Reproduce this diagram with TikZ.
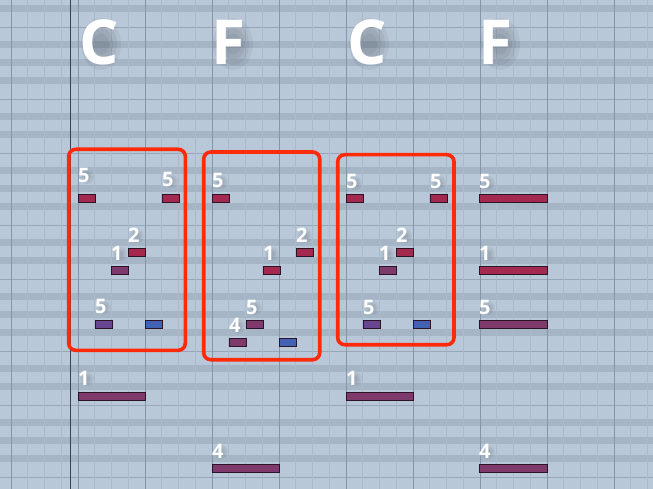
\documentclass[tikz,border=0pt]{standalone}
\usepackage{fontspec}
\setmainfont{Open Sans}
\usetikzlibrary{positioning}

\definecolor{rollbg}{HTML}{B9C8D8}
\definecolor{rollband}{HTML}{A5B5C6}
\definecolor{rollline}{HTML}{A9BACC}
\definecolor{rollbar}{HTML}{8396AB}
\definecolor{playline}{HTML}{3A4149}
\definecolor{noteRed}{HTML}{A3294E}
\definecolor{noteMag}{HTML}{7E3A6C}
\definecolor{notePurp}{HTML}{66468F}
\definecolor{noteBlue}{HTML}{4462B4}
\definecolor{boxRed}{HTML}{FF2A0A}

\tikzset{
  note/.style={draw=black!65!noteMag, line width=0.6pt, fill=#1, anchor=north west,
    inner sep=0pt, minimum height=7.6pt},
  finger/.style={text=white, font=\fontsize{20}{20}\selectfont\bfseries, anchor=base west, inner sep=0pt},
  chord/.style={text=white, font=\fontsize{62}{62}\selectfont\bfseries, anchor=base west, inner sep=0pt},
  haze/.style={fill=black, opacity=0.05},
  chordbox/.style={draw=boxRed, line width=3.6pt, rounded corners=7pt},
}

\begin{document}
\begin{tikzpicture}[x=1pt,y=-1pt]
  \useasboundingbox (0,0) rectangle (653,489);
  \clip (0,0) rectangle (653,489);

  %% Fond de la grille
  \fill [rollbg] (0,0) rectangle (653,489);
  \foreach \o in {0,126,252,378}
    \foreach \d in {0,36,54,72,108}
      \fill [rollband] (0,{5+\o+\d}) rectangle (653,{12+\o+\d});
  \foreach \o in {0,126,252,378} {
    \draw [rollline!90!black, line width=0.5pt] (0,27+\o) -- (653,27+\o);
    \draw [rollline!90!black, line width=0.5pt] (0,99+\o) -- (653,99+\o);
  }

  %% Lignes verticales
  \foreach \k in {0,...,38}
    \draw [rollline, line width=0.7pt] ({11+16.75*\k},0) -- ({11+16.75*\k},489);
  \foreach \k in {0,...,9}
    \draw [rollbar, line width=0.8pt] ({11+67*\k},0) -- ({11+67*\k},489);
  \draw [playline, line width=0.9pt] (70,0) -- (70,489);

  %% Accords
  \foreach \n/\x/\t in {chordA/79/C, chordB/211/F, chordC/347/C, chordD/478/F} {
    \foreach \r in {8,12,16,20}
      \fill [haze] (\x+22,44) ellipse ({\r pt} and {1.3*\r pt});
    \node [chord] (\n) at (\x,65) {\t};
  }

  %% Notes
  \foreach \n/\x/\y/\w/\c in {
      a1/78/194/17/noteRed, b1/162/194/17/noteRed, c1/128/248/17/noteRed,
      d1/111/266/17/noteMag, e1/95/320/17/notePurp, f1/145/320/17/noteBlue,
      g1/78/392/67/noteMag,
      a2/212/194/17/noteRed, b2/263/266/17/noteRed, c2/296/248/17/noteRed,
      d2/246/320/17/noteMag, e2/229/338/17/noteMag, f2/279/338/17/noteBlue,
      g2/212/464/67/noteMag,
      a3/346/194/17/noteRed, b3/430/194/17/noteRed, c3/396/248/17/noteRed,
      d3/379/266/17/noteMag, e3/363/320/17/notePurp, f3/413/320/17/noteBlue,
      g3/346/392/67/noteMag,
      a4/479/194/68/noteRed, b4/479/266/68/noteRed, c4/479/320/68/noteMag,
      d4/479/464/68/noteMag}
    \node [note=\c, minimum width=\w pt] (\n) at (\x,\y) {};

  %% Doigtés
  \foreach \n/\f/\g in {
      a1/5/11, b1/5/7, c1/2/6, d1/1/6, e1/5/7, g1/1/7,
      a2/5/6, b2/1/6, c2/2/6, d2/5/6, e2/4/6, g2/4/6,
      a3/5/5, b3/5/5, c3/2/6, d3/1/6, e3/5/6, g3/1/7,
      a4/5/5, b4/1/6, c4/5/6, d4/4/6} {
    \foreach \r in {3,5,7}
      \fill [haze] ([xshift=9pt,yshift=\g pt+6pt]\n.north west) circle (\r pt);
    \node [finger] (\n-f) at ([yshift=\g pt]\n.north west) {\f};
  }

  %% Cadres rouges
  \draw [chordbox] (68.7,149.3) rectangle (185.3,350.3);
  \draw [chordbox] (203.7,152) rectangle (319.7,359.7);
  \draw [chordbox] (337.7,154.7) rectangle (454,344.7);
\end{tikzpicture}
\end{document}
